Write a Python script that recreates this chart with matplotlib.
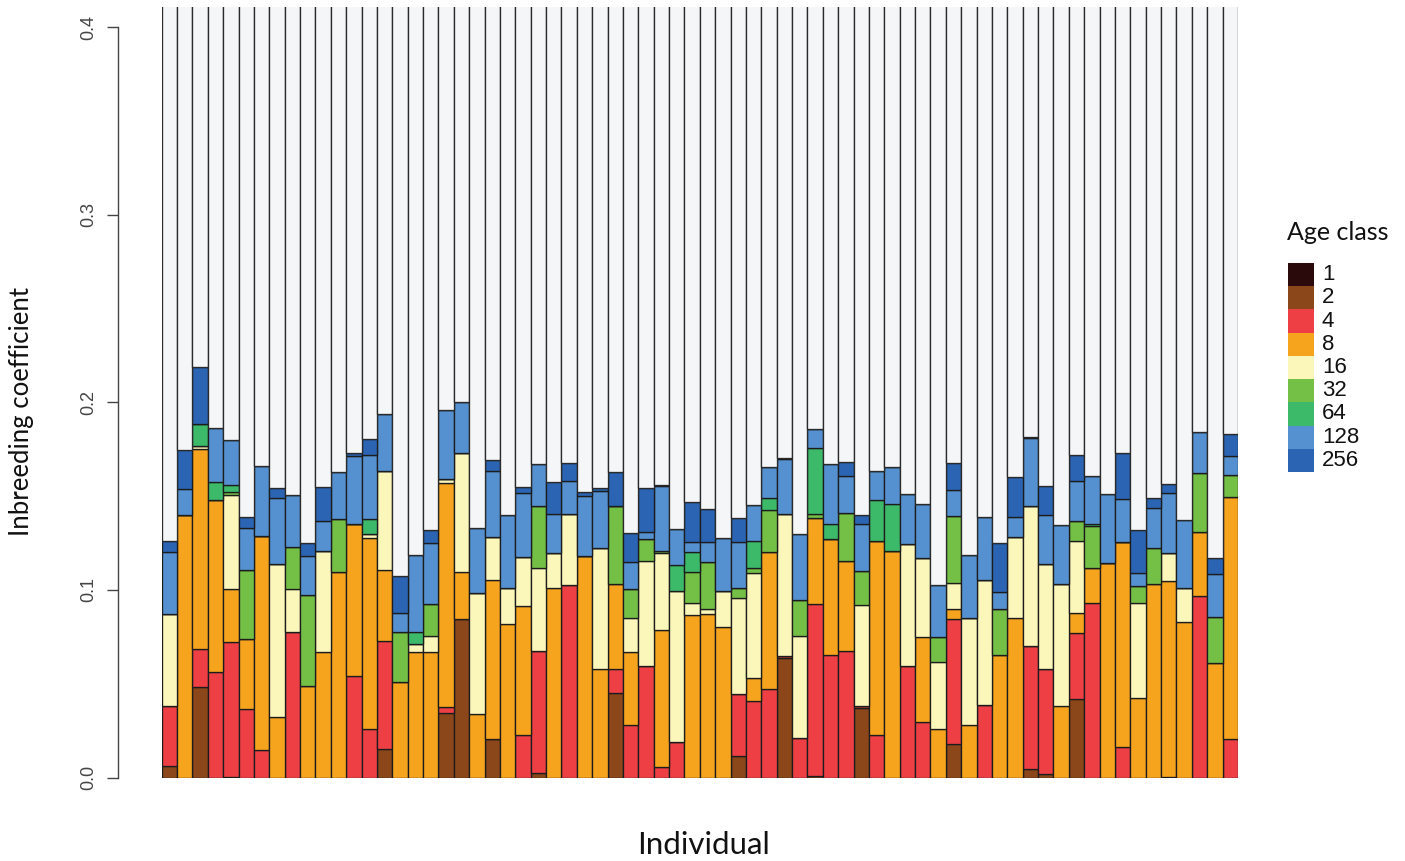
import numpy as np
import matplotlib
matplotlib.use("Agg")
import matplotlib.pyplot as plt

# age classes (bottom to top of each stack)
age_classes = ["1", "2", "4", "8", "16", "32", "64", "128", "256"]
class_colors = ["#2b0a0c", "#8b4619", "#ee3f45", "#f6a31d", "#fbf6ba",
                "#74bf45", "#3db96a", "#5591d0", "#2a64b2"]
rest_color = "#f4f6f8"

n_ind = 70

def spread(d):
    v = np.zeros(n_ind)
    for k, val in d.items():
        v[k] = val
    return v

f1 = spread({4: 0.0005})

f2 = spread({0: 0.006, 2: 0.0484, 14: 0.0153, 18: 0.0345, 19: 0.0846, 21: 0.0206,
             24: 0.0025, 29: 0.0448, 37: 0.0114, 40: 0.0638, 42: 0.001, 45: 0.0368,
             51: 0.0176, 56: 0.0046, 57: 0.0016, 59: 0.0421, 65: 0.0005})

f4 = [0.032, 0, 0.0202, 0.0565, 0.0719, 0.0363, 0.0144, 0, 0.0777, 0,
      0, 0, 0.054, 0.0261, 0.0574, 0, 0, 0, 0.003, 0,
      0, 0, 0, 0.0224, 0.0649, 0, 0.1026, 0, 0, 0.0128,
      0.0279, 0.0594, 0.0055, 0.0188, 0, 0, 0, 0.0329, 0.0407, 0.0473,
      0.0012, 0.0208, 0.0913, 0.0651, 0.0674, 0.0012, 0.0229, 0, 0.0597, 0.0295,
      0, 0.067, 0, 0.0386, 0, 0, 0.0654, 0.0564, 0, 0.0351,
      0.0928, 0, 0.0162, 0, 0, 0, 0, 0.0967, 0, 0.0203]

f8 = [0, 0.140, 0.1067, 0.0915, 0.0279, 0.0377, 0.1143, 0.0322, 0, 0.049,
      0.0668, 0.1097, 0.081, 0.1017, 0.0377, 0.051, 0.0668, 0.0668, 0.1197, 0.0249,
      0.034, 0.0846, 0.0816, 0.069, 0, 0.1008, 0, 0.118, 0.0576, 0.0457,
      0.0389, 0, 0.0734, 0, 0.0869, 0.0873, 0.0802, 0, 0.0121, 0.0729,
      0, 0, 0.0462, 0.0618, 0.048, 0, 0.1031, 0.121, 0, 0.0455,
      0.0261, 0.0054, 0.0279, 0, 0.0651, 0.0848, 0, 0, 0.038, 0.0103,
      0.019, 0.1145, 0.1095, 0.0425, 0.1029, 0.1042, 0.083, 0.0343, 0.0612, 0.1294]

f16 = [0.049, 0, 0.0014, 0, 0.0503, 0, 0, 0.0814, 0.0226, 0,
       0.0542, 0, 0, 0.0022, 0.053, 0, 0.0045, 0.0086, 0.0018, 0.0637,
       0.0645, 0.023, 0.0192, 0.0261, 0.0444, 0.019, 0.038, 0, 0.0649, 0,
       0.018, 0.056, 0.0406, 0.0806, 0.0059, 0.0023, 0.0192, 0.0515, 0.0564, 0,
       0.0753, 0.0546, 0, 0, 0, 0.0539, 0, 0, 0.0649, 0.0422,
       0.0354, 0.0138, 0.0569, 0.0665, 0, 0.0434, 0.075, 0.0556, 0.0653, 0.0385,
       0, 0, 0, 0.0503, 0, 0.0151, 0.0182, 0, 0, 0]

f32 = spread({4: 0.0014, 5: 0.0366, 8: 0.0225, 9: 0.0482, 11: 0.0283, 15: 0.0267,
              17: 0.0169, 24: 0.0332, 29: 0.0417, 30: 0.0155, 31: 0.0119, 32: 0.0012,
              34: 0.0167, 35: 0.0252, 37: 0.005, 38: 0.0023, 39: 0.0222, 41: 0.0192,
              42: 0.0018, 44: 0.0254, 45: 0.0181, 50: 0.0133, 51: 0.0356, 54: 0.025,
              59: 0.0107, 60: 0.0222, 63: 0.0092, 64: 0.0196, 67: 0.0315, 68: 0.0243,
              69: 0.0115})

f64 = spread({2: 0.0116, 3: 0.0095, 4: 0.0037, 13: 0.0076, 16: 0.0064, 33: 0.0138,
              34: 0.0107, 38: 0.0145, 39: 0.0064, 42: 0.0352, 43: 0.008, 46: 0.0219,
              47: 0.0246, 60: 0.001})

f128 = [0.033, 0.0136, 0, 0.029, 0.024, 0.0222, 0.0373, 0.0352, 0.0276, 0.0208,
        0.0157, 0.0248, 0.0363, 0.0341, 0.0302, 0.0101, 0.0409, 0.0329, 0.0367, 0.0272,
        0.0347, 0.0352, 0.0389, 0.0343, 0.0219, 0.0205, 0.0174, 0.032, 0.0305, 0,
        0.0145, 0.0035, 0.0347, 0.0191, 0.0055, 0.0109, 0.0281, 0.0249, 0.0192, 0.0167,
        0.0293, 0.0354, 0.0101, 0.0324, 0.0199, 0.0253, 0.0155, 0.0199, 0.0267, 0.0284,
        0.0276, 0.0138, 0.0336, 0.0339, 0.0089, 0.0108, 0.0358, 0.0261, 0.0313, 0.0213,
        0.0258, 0.0368, 0.0226, 0.0072, 0.021, 0.032, 0.0359, 0.0217, 0.0228, 0.0102]

f256 = [0.006, 0.021, 0.0307, 0, 0, 0.006, 0, 0.0053, 0, 0.0072,
        0.0183, 0, 0.0015, 0.0086, 0, 0.0196, 0, 0.0065, 0, 0,
        0, 0.0058, 0, 0.003, 0, 0.0174, 0.0095, 0.0024, 0.0015, 0.018,
        0.0157, 0.0237, 0.0005, 0, 0.0213, 0.0172, 0, 0.0124, 0, 0,
        0.0005, 0, 0, 0, 0.0075, 0.0044, 0, 0, 0, 0,
        0, 0.0146, 0, 0, 0.0262, 0.0212, 0.0007, 0.0157, 0, 0.0137,
        0, 0, 0.0245, 0.0225, 0.0053, 0.0048, 0, 0, 0.0089, 0.0119]

series = [f1, f2, f4, f8, f16, f32, f64, f128, f256]
y_ticks = [0.0, 0.1, 0.2, 0.3, 0.4]

W, H = 1405, 861
fig = plt.figure(figsize=(W / 100, H / 100), dpi=100)
ax = fig.add_axes([161.7 / W, (H - 777.5) / H, 1076.3 / W, 770.5 / H])

x = np.arange(n_ind)
bottom = np.zeros(n_ind)
for vals, col in zip(series, class_colors):
    vals = np.asarray(vals, dtype=float)
    ax.bar(x, vals, bottom=bottom, width=1.0, align="edge", color=col,
           edgecolor="#1c1c1c", linewidth=0.95)
    bottom += vals
# remaining part (white) runs off the top
ax.bar(x, 1 - bottom, bottom=bottom, width=1.0, align="edge", color=rest_color,
       edgecolor="#2a2a2a", linewidth=0.95)

ax.set_xlim(0, n_ind)
ax.set_ylim(0, 0.4108)
for s in ["top", "right", "bottom"]:
    ax.spines[s].set_visible(False)
ax.spines["left"].set_position(("outward", 31.5))
ax.spines["left"].set_bounds(0, 0.4)
ax.spines["left"].set_color("#444444")
ax.spines["left"].set_linewidth(1.0)
ax.set_xticks([])
ax.set_yticks(y_ticks)
ax.set_yticklabels(["%.1f" % t for t in y_ticks], rotation=90, va="center",
                   family="Liberation Sans", fontsize=13, color="#444444")
ax.tick_params(axis="y", length=8, width=1.0, color="#444444", pad=7)

fig.text(22 / W, 1 - 412 / H, "Inbreeding coefficient", rotation=90,
         ha="center", va="center", family="Lato", fontsize=18.5, color="#111111")
fig.text(703 / W, 1 - 845 / H, "Individual", ha="center", va="center",
         family="Lato", fontsize=22.5, color="#111111")

# legend
lg = fig.add_axes([1288 / W, (H - 472) / H, 26 / W, 209 / H])
lg.barh(np.arange(len(age_classes)), 1, height=1.0, left=0, color=class_colors)
lg.set_xlim(0, 1)
lg.set_ylim(len(age_classes) - 0.5, -0.5)
lg.axis("off")
for i, lab in enumerate(age_classes):
    lg.text(1.3, i, lab, va="center", ha="left", family="Liberation Sans",
            fontsize=16, color="#111111", clip_on=False)
lg.text(-0.05, -1.8, "Age class", va="center", ha="left", family="Lato",
        fontsize=18, color="#111111", clip_on=False)

fig.savefig("out.png", dpi=100, facecolor="white")
